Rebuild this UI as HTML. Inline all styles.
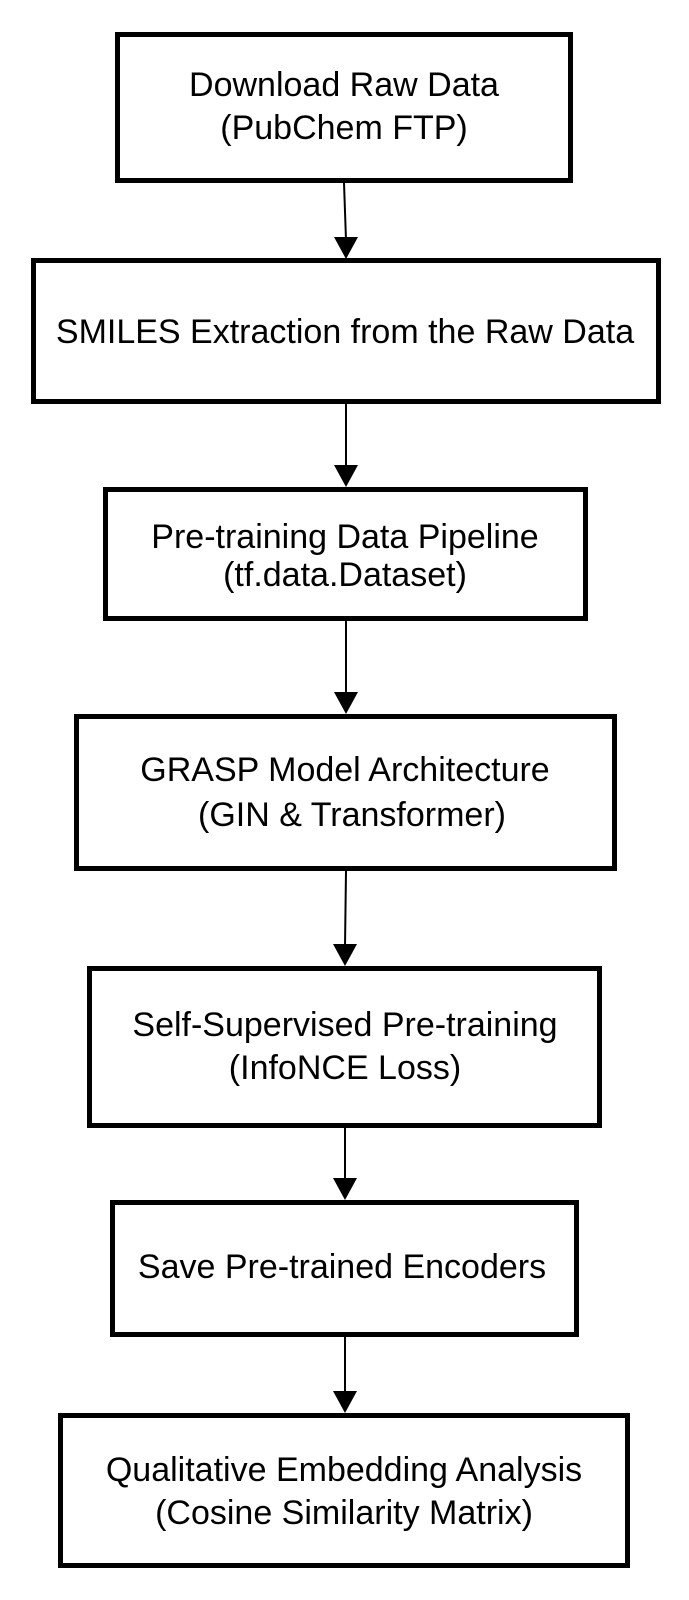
<!DOCTYPE html>
<html><head><meta charset="utf-8"><style>
html,body{margin:0;padding:0;background:#fff;}
svg{display:block;}
text{font-family:"Liberation Sans",Arial,sans-serif;font-size:34px;fill:#000;text-anchor:middle;dominant-baseline:central;}
</style></head><body>
<svg width="689" height="1600" viewBox="0 0 689 1600" xmlns="http://www.w3.org/2000/svg">
<g fill="none" stroke="#000" stroke-width="5">
<rect x="117.5" y="34.5" width="453" height="146"/>
<rect x="33.5" y="260.5" width="625" height="141"/>
<rect x="105.5" y="489.5" width="480" height="129"/>
<rect x="76.5" y="716.5" width="538" height="152"/>
<rect x="89.5" y="968.5" width="510" height="157"/>
<rect x="112.5" y="1202.5" width="464" height="132"/>
<rect x="60.5" y="1415.5" width="567" height="150"/>
</g>
<g stroke="#000" stroke-width="2">
<line x1="344" y1="183" x2="346" y2="240"/>
<line x1="346" y1="404" x2="346" y2="468"/>
<line x1="346" y1="621" x2="346" y2="695"/>
<line x1="346" y1="871" x2="345" y2="947"/>
<line x1="345" y1="1128" x2="345" y2="1181"/>
<line x1="345" y1="1337" x2="345" y2="1394"/>
</g>
<g fill="#000">
<polygon points="334,237 358,237 346,259"/>
<polygon points="334,465 358,465 346,487"/>
<polygon points="334,692 358,692 346,714"/>
<polygon points="333,944 357,944 345,966"/>
<polygon points="333,1178 357,1178 345,1200"/>
<polygon points="333,1391 357,1391 345,1413"/>
</g>
<text x="344" y="85">Download Raw Data</text>
<text x="344" y="128">(PubChem FTP)</text>
<text x="345" y="332">SMILES Extraction from the Raw Data</text>
<text x="345" y="537">Pre-training Data Pipeline</text>
<text x="345" y="575">(tf.data.Dataset)</text>
<text x="345" y="770">GRASP Model Architecture</text>
<text x="352" y="815">(GIN &amp; Transformer)</text>
<text x="345" y="1025">Self-Supervised Pre-training</text>
<text x="345" y="1068">(InfoNCE Loss)</text>
<text x="342" y="1267">Save Pre-trained Encoders</text>
<text x="344" y="1470">Qualitative Embedding Analysis</text>
<text x="344" y="1513">(Cosine Similarity Matrix)</text>
</svg>
</body></html>
